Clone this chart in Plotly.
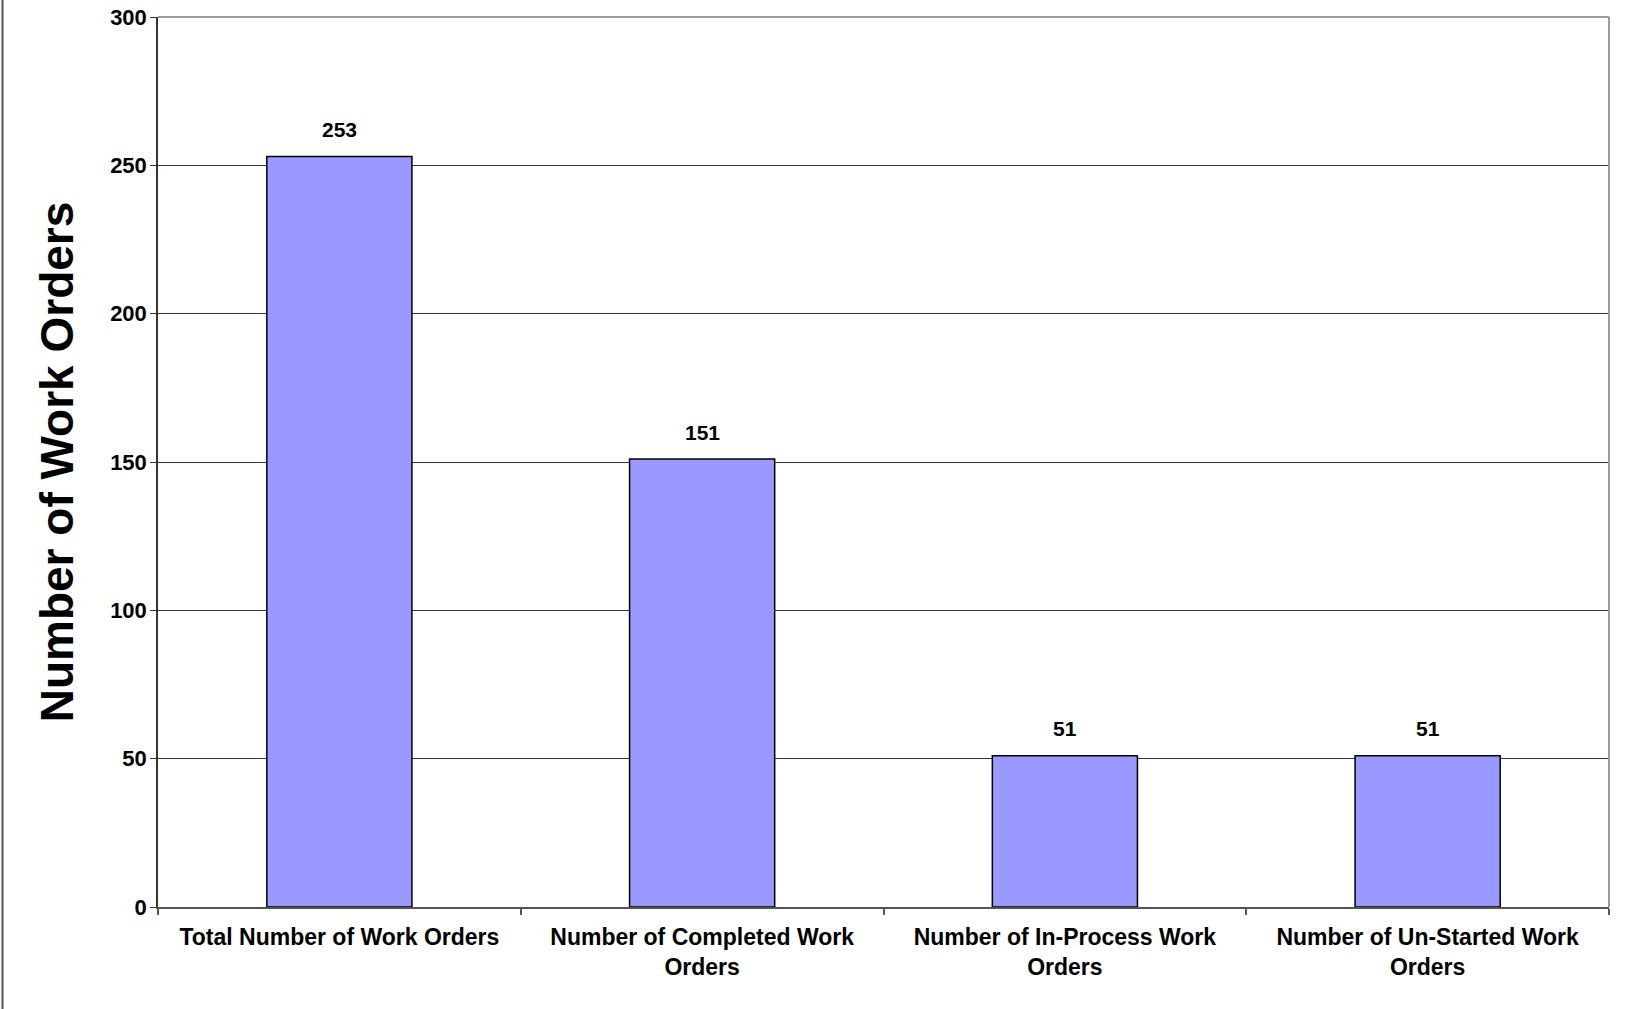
import plotly.graph_objects as go

# Work order counts by status
categories = [
    "Total Number of Work Orders",
    "Number of Completed Work<br>Orders",
    "Number of In-Process Work<br>Orders",
    "Number of Un-Started Work<br>Orders",
]
work_orders = [253, 151, 51, 51]
y_ticks = [0, 50, 100, 150, 200, 250, 300]

W, H = 1627, 1009
ML, MR, MT, MB = 158, 18, 17, 102
plot_w = W - ML - MR

FONT = "Arial, Liberation Sans, sans-serif"

fig = go.Figure(
    go.Bar(
        x=categories,
        y=work_orders,
        width=0.4,
        marker=dict(color="#9999FF", line=dict(color="#000000", width=1.5)),
        hoverinfo="x+y",
    )
)

# value labels above each bar
for cat, val in zip(categories, work_orders):
    fig.add_annotation(
        x=cat, y=val, text=str(val), showarrow=False,
        yanchor="middle", yshift=27,
        font=dict(family=FONT, size=21, color="#000000", weight="bold"),
    )

# grey frame on the top and right of the plot area
fig.add_shape(type="line", xref="paper", yref="paper", x0=0, x1=1, y0=1, y1=1,
              line=dict(color="#999999", width=2))
fig.add_shape(type="line", xref="paper", yref="paper", x0=1, x1=1, y0=0, y1=1,
              line=dict(color="#999999", width=2))
# outer chart border on the left
bx = (2.5 - ML) / plot_w
fig.add_shape(type="line", xref="paper", yref="paper", x0=bx, x1=bx,
              y0=-MB / (H - MT - MB) - 0.05, y1=1 + MT / (H - MT - MB) + 0.05,
              line=dict(color="#555555", width=2))

fig.update_layout(
    width=W, height=H,
    margin=dict(l=ML, r=MR, t=MT, b=MB, pad=0),
    paper_bgcolor="#FFFFFF", plot_bgcolor="#FFFFFF",
    showlegend=False,
    font=dict(family=FONT, color="#000000"),
    bargap=0.6,
)

fig.update_xaxes(
    type="category", automargin=False,
    showline=True, linecolor="#555555", linewidth=1.5,
    ticks="outside", tickson="boundaries", ticklen=6, tickcolor="#555555", tickwidth=1.5,
    tickfont=dict(family=FONT, size=23, color="#000000", weight="bold"),
    showgrid=False,
    ticklabelstandoff=9,
)

fig.update_yaxes(
    range=[0, 300], tickvals=y_ticks, automargin=False,
    showline=True, linecolor="#333333", linewidth=1.5,
    ticks="outside", ticklen=6, tickcolor="#333333", tickwidth=1.2,
    tickfont=dict(family=FONT, size=22, color="#000000", weight="bold"),
    showgrid=True, gridcolor="#333333", gridwidth=1,
    zeroline=False,
    ticklabelstandoff=-1,
    title=dict(text="Number of Work Orders",
               font=dict(family=FONT, size=46, color="#000000", weight="bold"),
               standoff=22),
)

fig.write_html("out.html")
